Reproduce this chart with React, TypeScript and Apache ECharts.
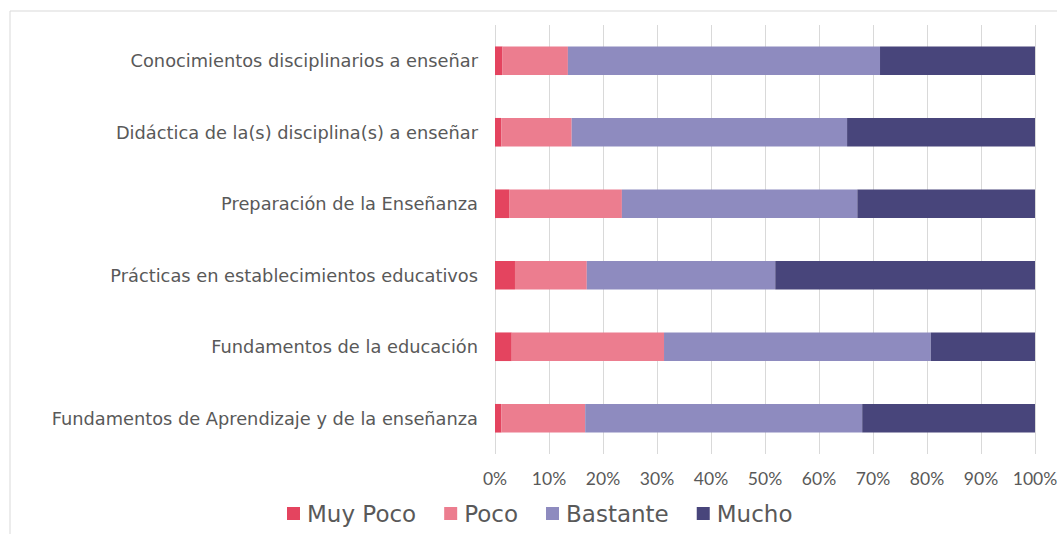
import React, { useEffect, useRef } from "react";
import * as echarts from "echarts";

const categories = [
  "Conocimientos disciplinarios a enseñar",
  "Didáctica de la(s) disciplina(s) a enseñar",
  "Preparación de la Enseñanza",
  "Prácticas en establecimientos educativos",
  "Fundamentos de la educación",
  "Fundamentos de Aprendizaje y de la enseñanza",
];

const muyPoco = [1.4, 1.2, 2.7, 3.7, 3.1, 1.2];
const poco = [12.1, 13.0, 20.8, 13.3, 28.2, 15.5];
const bastante = [57.8, 51.0, 43.6, 34.9, 49.4, 51.3];
const mucho = [28.7, 34.8, 32.9, 48.1, 19.3, 32.0];

const seriesNames = ["Muy Poco", "Poco", "Bastante", "Mucho"];
const seriesColors = ["#E4445F", "#EC7D8F", "#8E8BBF", "#48457B"];

export default function App() {
  const ref = useRef<HTMLDivElement>(null);

  useEffect(() => {
    if (!ref.current) return;
    const chart = echarts.init(ref.current, null, { renderer: "svg" });
    const datas = [muyPoco, poco, bastante, mucho];
    chart.setOption({
      animation: false,
      backgroundColor: "#ffffff",
      graphic: [
        {
          type: "rect",
          shape: { x: 10, y: 11, width: 1100, height: 600 },
          style: { fill: "none", stroke: "#d9d9d9", lineWidth: 1 },
          silent: true,
        },
      ],
      grid: {
        left: 495,
        right: 22,
        top: 25,
        bottom: 80,
        containLabel: false,
        outerBoundsMode: "none",
      },
      legend: {
        left: 282,
        top: 497,
        itemWidth: 13,
        itemHeight: 13,
        itemGap: 28,
        icon: "rect",
        textStyle: {
          fontFamily: "DejaVu Sans",
          fontSize: 23,
          color: "#595959",
          padding: [0, 0, 0, 2],
        },
        data: seriesNames,
      },
      xAxis: {
        type: "value",
        min: 0,
        max: 100,
        interval: 10,
        axisLine: { show: false },
        axisTick: { show: false },
        axisLabel: {
          formatter: "{value}%",
          color: "#595959",
          fontFamily: "Lato",
          fontSize: 17.5,
          margin: 15,
        },
        splitLine: { lineStyle: { color: "#d9d9d9", width: 1 } },
      },
      yAxis: {
        type: "category",
        data: categories,
        inverse: true,
        axisLine: { show: false },
        axisTick: { show: false },
        axisLabel: {
          color: "#595959",
          fontFamily: "DejaVu Sans",
          fontSize: 17.8,
          margin: 17,
        },
      },
      series: seriesNames.map((name, i) => ({
        name,
        type: "bar",
        stack: "total",
        barWidth: "40%",
        data: datas[i],
        itemStyle: { color: seriesColors[i] },
      })),
    });
    return () => chart.dispose();
  }, []);

  return (
    <div
      ref={ref}
      style={{ position: "fixed", left: 0, top: 0, width: 1057, height: 534 }}
    />
  );
}
